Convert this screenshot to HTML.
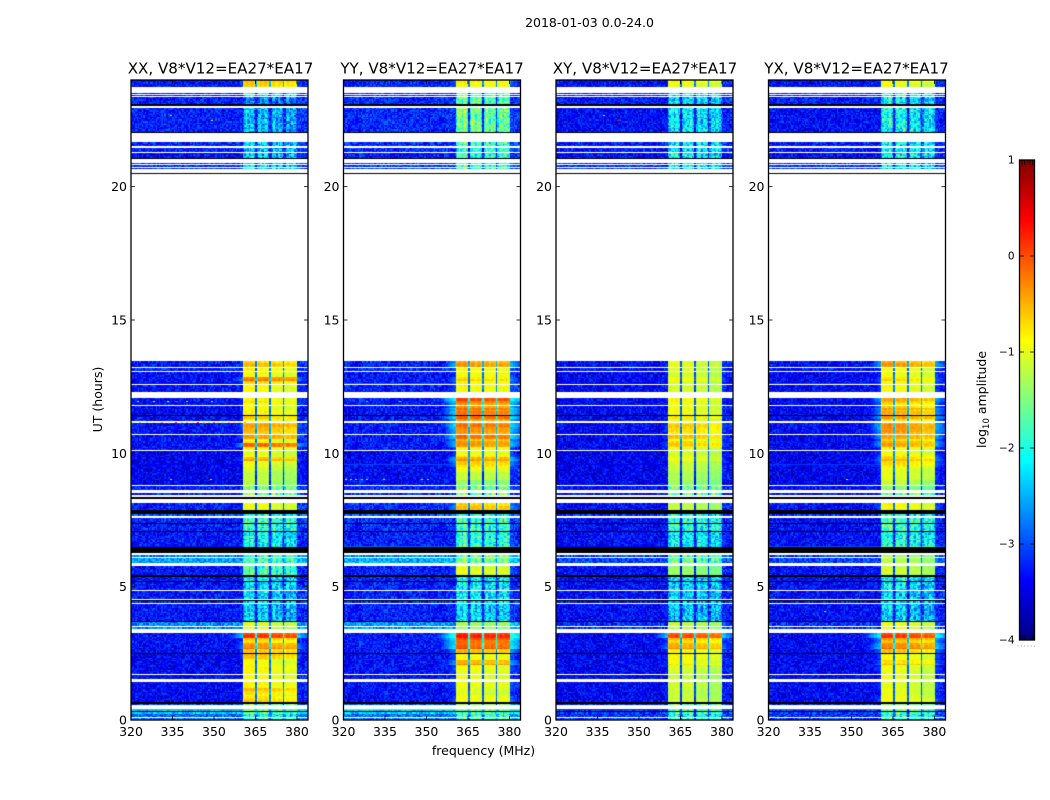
<!DOCTYPE html>
<html lang="en">
<head>
<meta charset="utf-8">
<title>2018-01-03 0.0-24.0</title>
<style>
html,body{margin:0;padding:0;background:#fff;}
#figure{position:relative;width:1050px;height:800px;background:#fff;overflow:hidden;font-family:"DejaVu Sans","Liberation Sans",sans-serif;color:#000;}
#figure canvas{position:absolute;display:block;}
#overlay{position:absolute;left:0;top:0;}
#overlay text{font-family:"DejaVu Sans","Liberation Sans",sans-serif;fill:#000;}
</style>
</head>
<body>
<div id="figure">
<svg id="overlay" width="1050" height="800" viewBox="0 0 1050 800">
  <text x="589.5" y="27" font-size="12.5" text-anchor="middle">2018-01-03 0.0-24.0</text>
  <text x="220.5" y="73.5" font-size="15.1" text-anchor="middle">XX, V8*V12=EA27*EA17</text>
  <text x="432" y="73.5" font-size="15.1" text-anchor="middle">YY, V8*V12=EA27*EA17</text>
  <text x="645" y="73.5" font-size="15.1" text-anchor="middle">XY, V8*V12=EA27*EA17</text>
  <text x="856.5" y="73.5" font-size="15.1" text-anchor="middle">YX, V8*V12=EA27*EA17</text>
  <text x="483.5" y="755" font-size="12.5" text-anchor="middle">frequency (MHz)</text>
  <text transform="translate(102 399.5) rotate(-90)" font-size="12.5" text-anchor="middle">UT (hours)</text>
  <text transform="translate(986 399.5) rotate(-90)" font-size="12.5" text-anchor="middle">log<tspan font-size="8.5" dy="3">10</tspan><tspan dy="-3"> amplitude</tspan></text>
</svg>
</div>
<script>
// ---------- chart data ----------
const polarizations = ['xx', 'yy', 'xy', 'yx'];
const freqTicks = [320, 335, 350, 365, 380];
const hourTicks = [0, 5, 10, 15, 20];
const colorbarTicks = [-4, -3, -2, -1, 0, 1];
const subbandStart = [360.6, 365.6, 370.6, 375.7];
const subbandEnd = [364.8, 369.9, 375.0, 380.0];

// time segments holding data (UT hours)
const segStart = [23.72,23.48,23.41,23.03,22.48,22.05,21.53,21.30,21.07,20.84,20.73,20.66,
  13.23,13.09,12.88,12.73,12.59,12.30,11.98,11.80,11.62,11.43,11.30,11.21,10.98,10.71,10.52,10.38,10.25,10.11,9.85,9.70,9.50,9.30,9.00,8.81,8.62,8.44,
  7.86,7.65,7.37,7.08,6.48,6.11,5.88,5.42,5.20,4.86,4.55,4.40,3.70,3.58,3.51,3.40,3.08,2.90,2.65,2.52,2.25,2.05,1.73,1.52,1.20,0.95,0.68,0.56,0.34,0.24,0.105,0.00];
const segEnd = [24.00,23.52,23.45,23.37,22.96,22.45,21.66,21.46,21.26,20.88,20.81,20.70,
  13.45,13.19,13.05,12.88,12.73,12.55,12.08,11.98,11.76,11.62,11.39,11.30,11.14,10.98,10.67,10.52,10.38,10.25,10.08,9.85,9.70,9.50,9.30,9.00,8.77,8.50,
  8.12,7.72,7.57,7.34,7.05,6.17,6.07,5.76,5.38,5.17,4.82,4.47,4.36,3.66,3.55,3.47,3.28,3.08,2.90,2.65,2.48,2.25,2.05,1.70,1.44,1.20,0.95,0.61,0.42,0.30,0.24,0.06];

// band-averaged log10 amplitude inside the 360-380 MHz block, per polarization
const levelXx = [-0.6,-2.3,-2.4,-2.8,-2.6,-2.6,-2.5,-2.5,-2.5,-2.4,-2.3,-2.3,
  -0.8,-0.95,-0.85,-0.45,-0.9,-0.95,-0.95,-0.9,-1.0,-0.95,-0.65,-0.85,-0.5,-0.75,-0.35,-0.9,-0.35,-0.95,-1.05,-0.7,-1.1,-1.15,-1.3,-1.3,-1.6,-1.65,
  -1.05,-2.0,-1.95,-2.05,-2.25,-2.0,-1.9,-1.9,-2.3,-2.4,-2.45,-2.5,-2.5,-1.15,-1.15,-1.15,-0.1,-0.75,-0.3,-0.85,-0.75,-1.0,-0.95,-0.95,-0.95,-0.7,-0.9,-1.6,-1.7,-1.8,-2.2,-2.0];
const levelYy = [-0.85,-1.9,-1.9,-1.75,-1.7,-1.7,-1.9,-2.0,-2.0,-1.9,-1.9,-1.9,
  -0.6,-1.0,-0.95,-0.9,-1.0,-0.85,-0.15,-0.35,-0.3,-0.45,-0.1,-0.3,-0.25,-0.55,-0.1,-0.5,-0.6,-0.95,-0.85,-0.6,-0.85,-1.0,-1.25,-1.45,-1.6,-1.65,
  -0.8,-2.0,-1.95,-2.0,-2.05,-1.7,-1.6,-1.1,-2.25,-2.3,-2.35,-2.35,-2.4,-1.4,-1.4,-1.4,0.0,-0.15,-0.05,-0.8,-1.0,-0.45,-1.05,-1.05,-1.05,-1.1,-1.0,-1.4,-1.7,-1.8,-1.95,-1.9];
const levelXy = [-0.9,-2.2,-2.3,-2.35,-2.3,-2.3,-2.3,-2.3,-2.3,-2.2,-2.2,-2.2,
  -1.1,-1.15,-1.1,-1.0,-1.15,-1.1,-0.95,-1.0,-1.0,-1.0,-0.75,-0.9,-0.7,-0.9,-0.5,-0.8,-0.85,-1.05,-1.1,-1.0,-1.2,-1.2,-1.35,-1.4,-1.6,-1.7,
  -1.25,-2.0,-2.0,-2.05,-2.25,-1.8,-1.7,-1.45,-2.3,-2.4,-2.45,-2.5,-2.5,-1.25,-1.25,-1.25,-0.2,-0.7,-0.4,-0.95,-0.95,-0.85,-1.15,-1.2,-1.2,-1.2,-1.2,-1.6,-1.8,-1.8,-2.2,-1.95];
const levelYx = [-0.9,-2.1,-2.2,-2.25,-2.2,-2.2,-2.25,-2.25,-2.25,-2.2,-2.2,-2.2,
  -0.6,-1.0,-0.95,-0.9,-1.0,-0.85,-0.6,-0.7,-0.55,-0.7,-0.35,-0.6,-0.4,-0.55,-0.35,-0.6,-0.65,-0.95,-0.8,-0.75,-0.9,-0.9,-1.1,-1.2,-1.5,-1.6,
  -0.95,-2.0,-1.9,-1.95,-2.1,-1.4,-1.3,-1.2,-2.2,-2.3,-2.4,-2.45,-2.45,-1.05,-1.05,-1.05,-0.1,-0.55,-0.2,-0.85,-0.95,-0.65,-1.05,-1.0,-1.1,-1.05,-1.0,-1.5,-1.8,-1.8,-2.05,-1.95];

// off-band floor for parallel hands (XX, YY) and cross hands (XY, YX)
const floorParallel = [-3.3,-3.25,-3.25,-3.25,-3.25,-3.25,-3.25,-3.25,-3.35,-3.15,-3.15,-3.15,
  -3.3,-3.25,-3.35,-3.35,-3.35,-3.35,-3.35,-3.35,-3.4,-3.4,-3.35,-3.35,-3.35,-3.35,-3.35,-3.35,-3.35,-3.35,-3.45,-3.45,-3.45,-3.45,-3.45,-3.45,-3.25,-3.25,
  -3.25,-3.0,-3.25,-3.25,-3.3,-2.75,-2.6,-3.3,-3.3,-3.3,-3.3,-3.3,-3.3,-2.7,-2.7,-2.7,-3.35,-3.35,-3.35,-3.35,-3.4,-3.4,-3.4,-3.4,-3.4,-3.4,-3.4,-3.05,-2.4,-2.4,-2.9,-2.75];
const floorCross = [-3.35,-3.25,-3.25,-3.25,-3.35,-3.35,-3.3,-3.3,-3.35,-3.15,-3.15,-3.15,
  -3.35,-3.35,-3.4,-3.4,-3.4,-3.4,-3.4,-3.4,-3.4,-3.4,-3.4,-3.4,-3.4,-3.4,-3.4,-3.4,-3.4,-3.4,-3.45,-3.45,-3.45,-3.45,-3.45,-3.45,-3.35,-3.35,
  -3.35,-3.15,-3.35,-3.35,-3.35,-3.05,-3.05,-3.35,-3.35,-3.35,-3.35,-3.35,-3.35,-3.15,-3.15,-3.15,-3.4,-3.4,-3.4,-3.4,-3.4,-3.4,-3.4,-3.4,-3.4,-3.4,-3.4,-3.25,-3.1,-3.1,-3.15,-3.05];

// fully flagged (black) time ranges
const flaggedStart = [23.03,22.01,21.03,20.46,11.39,8.29,7.72,7.34,7.05,6.26,5.38,5.17,4.47,3.66,2.48,0.61,0.30];
const flaggedEnd = [23.10,22.05,21.07,20.51,11.43,8.37,7.86,7.37,7.08,6.48,5.42,5.20,4.51,3.70,2.52,0.68,0.34];

// isolated hot samples: panel index, hour, frequency, level
const speckPanel = [0,0,0,0,0,0,0,0,0,0,0,0,0,0,0,0,0,0,0,0,0,0,0,0,0,0,0,0,1,1,1,1,1,1,1,1,2,2,3,3,1,1,0,0];
const speckHour = [11.19,11.19,11.19,11.19,11.19,11.19,11.19,11.19,11.19,11.19,11.19,11.19,11.19,11.19,11.19,11.19,11.19,11.19,11.19,11.97,11.97,11.97,11.97,11.97,11.97,9.02,9.02,22.7,9.02,9.02,9.02,9.02,9.02,9.02,9.02,9.02,22.7,22.5,9.02,4.1,11.98,11.98,11.19,22.5];
const speckFreq = [320.5,323,325.5,328,331,333.5,336,338,340,342,344,346,348,349.5,351,353,355,357,359,322,328,333,336,340,349,334,348.5,334,320.5,322,324,326,328,334,348,350,337,342,348,340,328,340,361,349];
const speckLevel = [-1.2,-0.6,-1.5,-0.8,-0.4,-1.0,0.1,-1.3,-0.5,-0.9,0.2,-0.7,-1.1,-0.2,-0.8,-1.2,-0.5,-0.9,-0.6,-1.4,-1.1,-0.9,0.1,-1.2,-1.0,-1.3,-0.8,-0.9,-1.2,-1.1,-1.2,-1.4,-1.5,-1.3,-1.3,-1.2,-1.0,0.3,-1.0,-1.6,-1.7,-1.7,-0.4,-1.2];

// hand-typed speckle, sub-band and row texture applied around the band levels
const speckleTable = [0.8,-0.6,0.1,-0.9,0.5,-0.2,0.9,-0.4,-0.7,0.3,-1.0,0.6,0.0,-0.3,0.7,-0.8,0.2,1.0,-0.5,0.4,-0.1,-0.9,0.6,0.3,-0.6,0.9,-0.2,0.1,-0.7,0.5,-1.0,0.8,-0.4,0.2,0.7,-0.3,-0.8,0.4,0.0,1.0,-0.5,-0.1,0.6,-0.9,0.3,-0.6,0.8,-0.2,0.5,-0.7,0.1,0.9,-0.4,-1.0,0.2,0.7,-0.3,0.4,-0.8,0.0,0.6];
const subbandShape = [-0.3,0.05,0.18,0.08,-0.12,0.12,0.22,0.02,-0.22];
const subbandTilt = [[0.08,0.06,-0.03,-0.08],[0.08,0.04,0.0,-0.02],[0.05,0.04,-0.05,-0.15],[0.06,0.02,-0.06,-0.14]];
const rowRipple = [0.13,0.17,0.03,-0.12,-0.18,-0.07,0.09,0.18,0.06,-0.15,-0.11,0.05];
const shoulderOffset = [-2.35,-1.95,-2.25,-2.05];
const levelsByPanel = [levelXx, levelYy, levelXy, levelYx];
const floorsByPanel = [floorParallel, floorParallel, floorCross, floorCross];
const channelWidth = 0.5;
const rowHours = 0.05;

// ---------- layout & scales ----------
const figure = document.getElementById('figure');
const overlay = document.getElementById('overlay');
const SVGNS = 'http://www.w3.org/2000/svg';
const panelLeft = [131, 343.5, 556, 768.5];
const panelWidth = 177, plotTop = 80, plotHeight = 640;
const fMin = 320, fMax = 384, tMin = 0, tMax = 24;
const xScale = f => (f - fMin) / (fMax - fMin) * panelWidth;
const yScale = t => plotHeight - (t - tMin) / (tMax - tMin) * plotHeight;
const cbLeft = 1019.5, cbWidth = 15, cbTop = 160, cbHeight = 480, cbMin = -4, cbMax = 1;
const cbScale = v => cbHeight - (v - cbMin) / (cbMax - cbMin) * cbHeight;

function jet(v) {
  const t = Math.min(1, Math.max(0, (v - cbMin) / (cbMax - cbMin)));
  const ramp = c => Math.round(255 * Math.min(1, Math.max(0, 1.5 - Math.abs(4 * t - c))));
  return 'rgb(' + ramp(3) + ',' + ramp(2) + ',' + ramp(1) + ')';
}
function svgLine(x1, y1, x2, y2, color, width) {
  const el = document.createElementNS(SVGNS, 'line');
  el.setAttribute('x1', x1); el.setAttribute('y1', y1);
  el.setAttribute('x2', x2); el.setAttribute('y2', y2);
  el.setAttribute('stroke', color); el.setAttribute('stroke-width', width);
  overlay.appendChild(el);
  return el;
}
function svgText(x, y, str, size, anchor) {
  const el = document.createElementNS(SVGNS, 'text');
  el.setAttribute('x', x); el.setAttribute('y', y);
  el.setAttribute('font-size', size); el.setAttribute('text-anchor', anchor);
  el.textContent = str;
  overlay.appendChild(el);
  return el;
}
const labelOf = v => String(v).replace('-', '\u2212');

function cellValue(p, s, f, c, r) {
  const level = levelsByPanel[p][s];
  const floor = floorsByPanel[p][s] + (p === 1 ? 0.06 : 0);
  const tex = speckleTable[(c * 37 + r * r * 11 + c * r * 3 + p * 13 + r * 5) % speckleTable.length];
  const floorCell = floor + tex * 0.38;
  const ripple = rowRipple[Math.floor(r / 2) % rowRipple.length];
  for (let b = 0; b < subbandStart.length; b++) {
    if (f >= subbandStart[b] && f < subbandEnd[b]) {
      const pos = Math.floor((f - subbandStart[b]) / (subbandEnd[b] - subbandStart[b]) * subbandShape.length);
      const low = level < -1.5;
      const shape = subbandShape[pos] * (low ? 1.2 : 0.3);
      const rowPart = ripple * (level > -0.95 ? 1 : 0.2);
      return level + subbandTilt[p][b] + shape + rowPart + tex * (low ? 0.5 : 0.09);
    }
  }
  if (f >= subbandStart[0] && f < subbandEnd[3]) {
    return Math.max(floorCell, level - 1.9 + tex * 0.15);
  }
  if (f < subbandStart[0]) {
    const shoulder = level + shoulderOffset[p] + ripple - 0.2 * (subbandStart[0] - f) + tex * 0.12;
    return Math.max(floorCell, shoulder);
  }
  const right = level + shoulderOffset[p] + ripple - 0.15 * (f - subbandEnd[3]) + tex * 0.12;
  return Math.max(floorCell + 0.12, right);
}

// ---------- panels ----------
polarizations.forEach(function (name, p) {
  const canvas = document.createElement('canvas');
  
  
  canvas.width = panelWidth;
  canvas.height = plotHeight;
  canvas.style.left = Math.round(panelLeft[p]) + 'px';
  canvas.style.top = plotTop + 'px';
  figure.insertBefore(canvas, overlay);
  const ctx = canvas.getContext('2d');

  segStart.forEach(function (start, s) {
    const end = segEnd[s];
    const rows = Math.max(1, Math.round((end - start) / rowHours));
    const dt = (end - start) / rows;
    const rowSeed = Math.round(start * 20);
    for (let r = 0; r < rows; r++) {
      const y0 = Math.round(yScale(start + (r + 1) * dt));
      const y1 = Math.round(yScale(start + r * dt));
      for (let c = 0; fMin + c * channelWidth < fMax; c++) {
        const f = fMin + c * channelWidth;
        const x0 = Math.round(xScale(f));
        const x1 = Math.round(xScale(f + channelWidth));
        ctx.fillStyle = jet(cellValue(p, s, f + channelWidth / 2, c, rowSeed + r));
        ctx.fillRect(x0, y0, x1 - x0, Math.max(1, y1 - y0));
      }
    }
  });
  speckHour.forEach(function (hour, i) {
    if (speckPanel[i] !== p) return;
    ctx.fillStyle = jet(speckLevel[i]);
    ctx.fillRect(Math.round(xScale(speckFreq[i])), Math.round(yScale(hour)), 2, 1);
  });
  ctx.fillStyle = '#000';
  flaggedStart.forEach(function (start, i) {
    const y0 = Math.round(yScale(flaggedEnd[i]));
    const y1 = Math.round(yScale(start));
    ctx.fillRect(0, y0, panelWidth, Math.max(1, y1 - y0));
  });

  const frame = document.createElementNS(SVGNS, 'rect');
  
  
  frame.setAttribute('x', panelLeft[p]);
  frame.setAttribute('y', plotTop);
  frame.setAttribute('width', panelWidth);
  frame.setAttribute('height', plotHeight);
  frame.setAttribute('fill', 'none');
  frame.setAttribute('stroke', '#000');
  frame.setAttribute('stroke-width', '1.3');
  overlay.appendChild(frame);

  freqTicks.forEach(function (tick) {
    const x = panelLeft[p] + xScale(tick);
    const bottomTick = svgLine(x, plotTop + plotHeight, x, plotTop + plotHeight - 4, '#000', 0.8);
    
    
    const topTick = svgLine(x, plotTop, x, plotTop + 4, '#000', 0.8);
    
    
    const label = svgText(x, plotTop + plotHeight + 16, labelOf(tick), 12.5, 'middle');
    
    
  });
  hourTicks.forEach(function (tick) {
    const y = plotTop + yScale(tick);
    const leftTick = svgLine(panelLeft[p], y, panelLeft[p] + 4, y, '#000', 0.8);
    
    
    const rightTick = svgLine(panelLeft[p] + panelWidth, y, panelLeft[p] + panelWidth - 4, y, '#000', 0.8);
    
    
    const label = svgText(panelLeft[p] - 4, y + 4.5, labelOf(tick), 12.5, 'end');
    
    
  });
});

// ---------- colorbar ----------
const cbCanvas = document.createElement('canvas');


cbCanvas.width = cbWidth;
cbCanvas.height = cbHeight;
cbCanvas.style.left = cbLeft + 'px';
cbCanvas.style.top = cbTop + 'px';
figure.insertBefore(cbCanvas, overlay);
const cbCtx = cbCanvas.getContext('2d');
for (let y = 0; y < cbHeight; y++) {
  cbCtx.fillStyle = jet(cbMax - (y + 0.5) / cbHeight * (cbMax - cbMin));
  cbCtx.fillRect(0, y, cbWidth, 1);
}
const cbFrame = document.createElementNS(SVGNS, 'rect');


cbFrame.setAttribute('x', cbLeft);
cbFrame.setAttribute('y', cbTop);
cbFrame.setAttribute('width', cbWidth);
cbFrame.setAttribute('height', cbHeight);
cbFrame.setAttribute('fill', 'none');
cbFrame.setAttribute('stroke', '#000');
cbFrame.setAttribute('stroke-width', '1.3');
overlay.appendChild(cbFrame);
colorbarTicks.forEach(function (tick) {
  const y = cbTop + cbScale(tick);
  const leftDash = svgLine(cbLeft, y, cbLeft + 4.5, y, '#000', 0.8);
  
  
  const rightDash = svgLine(cbLeft + cbWidth, y, cbLeft + cbWidth - 4.5, y, '#000', 0.8);
  
  
  const label = svgText(cbLeft - 5, y + 3.5, labelOf(tick), 10.5, 'end');
  
  
});
for (let i = 1; i <= 5; i++) {
  const x = cbLeft + i * 2.6;
  const topMark = svgLine(x, cbTop, x, cbTop + 5, '#000', 0.7);
  
  
  const bottomMark = svgLine(x, cbTop + cbHeight, x, cbTop + cbHeight - 5, '#000', 0.7);
  
  
}
for (let i = 0; i < 6; i++) {
  const dot = svgLine(1017.5 + i * 3.3, 646, 1018.5 + i * 3.3, 646, '#999', 1);
  
  
}
</script>
</body>
</html>
